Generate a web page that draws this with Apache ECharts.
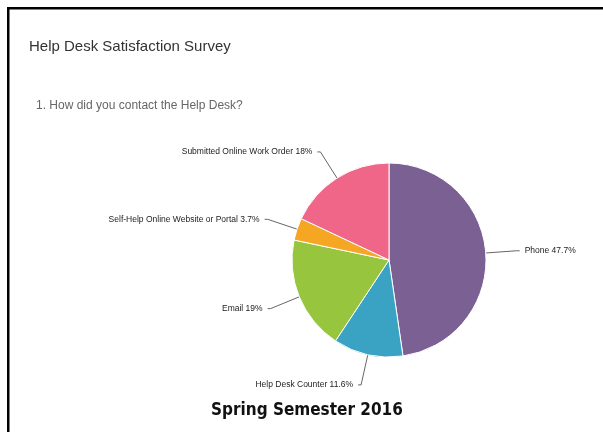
<!DOCTYPE html>
<html>
<head>
<meta charset="utf-8">
<script src="https://cdn.jsdelivr.net/npm/echarts@6/dist/echarts.min.js"></script>
<style>
  html, body { margin: 0; padding: 0; background: #ffffff; }
  #chart { width: 603px; height: 432px; }
</style>
</head>
<body>
<div id="chart"></div>
<script>
// Survey answers: how respondents reached the Help Desk (percent of responses)
const categories = [
  'Phone',
  'Help Desk Counter',
  'Email',
  'Self-Help Online Website or Portal',
  'Submitted Online Work Order'
];
const shares = [47.7, 11.6, 19, 3.7, 18];

const palette = ['#7B6094', '#3AA3C4', '#97C53E', '#F5A623', '#EF6689'];

const chart = echarts.init(document.getElementById('chart'), null, { renderer: 'canvas' });

chart.setOption({
  backgroundColor: '#ffffff',
  animation: false,
  color: palette,
  graphic: [
    // frame edges
    { type: 'rect', shape: { x: 7, y: 7, width: 596, height: 2.5 }, style: { fill: '#000' } },
    { type: 'rect', shape: { x: 7, y: 7, width: 2.5, height: 425 }, style: { fill: '#000' } },
    {
      type: 'text', left: 29, top: 39,
      style: { text: 'Help Desk Satisfaction Survey', font: '15px "Liberation Sans", Arial, sans-serif', fill: '#333333' }
    },
    {
      type: 'text', left: 36, top: 100,
      style: { text: '1. How did you contact the Help Desk?', font: '12px "Liberation Sans", Arial, sans-serif', fill: '#666666' }
    },
    {
      type: 'text', left: 211, top: 402,
      style: { text: 'Spring Semester 2016', font: 'bold 17px "DejaVu Sans Condensed", "DejaVu Sans", sans-serif', fill: '#111111' }
    }
  ],
  series: [{
    type: 'pie',
    center: [389, 260],
    radius: 97,
    startAngle: 90,
    clockwise: true,
    avoidLabelOverlap: false,
    itemStyle: { borderColor: '#ffffff', borderWidth: 1 },
    label: {
      show: true,
      position: 'outside',
      formatter: '{b} {c}%',
      fontFamily: '"Liberation Sans", Arial, sans-serif',
      fontSize: 8.5,
      color: '#222222',
      distanceToLabelLine: 5
    },
    labelLine: {
      show: true,
      length: 31,
      length2: 3,
      lineStyle: { color: '#666666', width: 1 }
    },
    emphasis: { disabled: true },
    data: categories.map((name, i) => ({ name: name, value: shares[i] }))
  }]
});
</script>
</body>
</html>
